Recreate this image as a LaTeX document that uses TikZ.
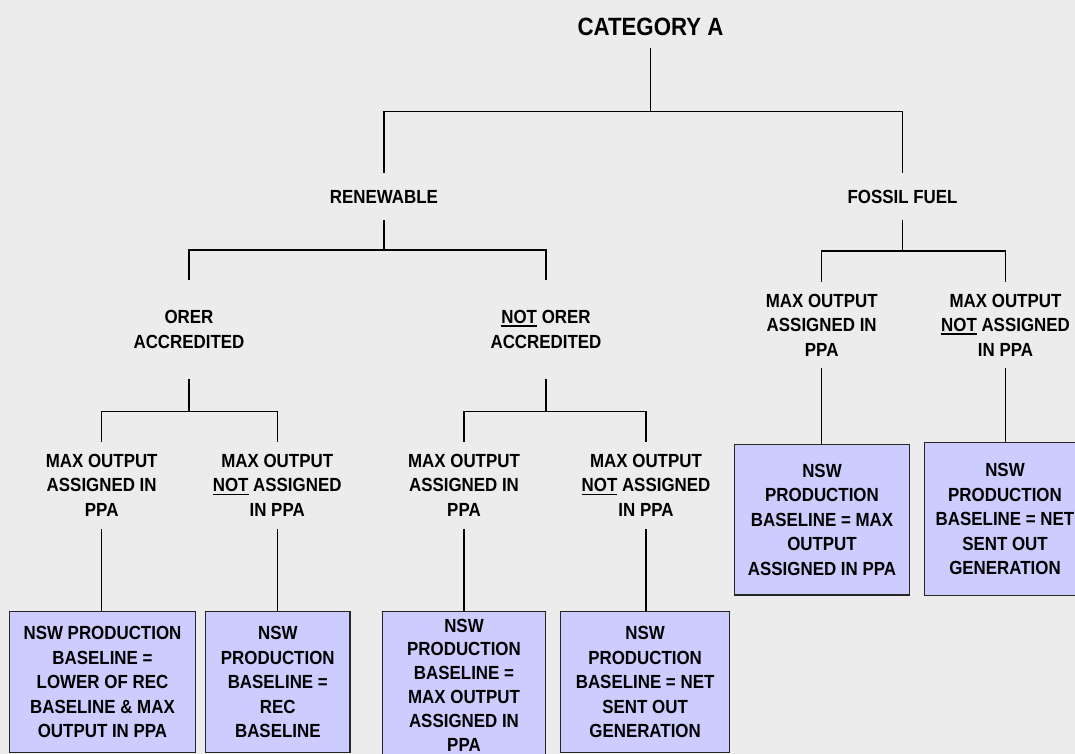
\documentclass[tikz,border=0pt]{standalone}
\usepackage{fontspec}
\setmainfont{Liberation Sans}[FakeStretch=0.89]
\usepackage{xcolor}
\usetikzlibrary{positioning}
\definecolor{bgcol}{HTML}{ECECEC}
\definecolor{boxcol}{HTML}{CCCCFF}
\definecolor{boxline}{HTML}{262626}
\newcommand{\ulnot}[1]{\setbox0\hbox{#1}\rlap{\rule[-3.5pt]{\wd0}{1.8pt}}\box0\relax}

\begin{document}
\begin{tikzpicture}[x=1pt,y=-1pt,line width=1.3pt,
	txt/.style={font=\fontsize{19}{24.5}\selectfont\bfseries, align=center, inner xsep=0pt},
	toplbl/.style={font=\fontsize{25}{30}\selectfont\bfseries, inner xsep=0pt, inner ysep=12pt},
	grplbl/.style={txt, inner ysep=16pt},
	srclbl/.style={txt, inner ysep=30pt},
	optlbl/.style={txt, inner ysep=11.5pt},
	resbox/.style={txt, draw=boxline, fill=boxcol, line width=1.4pt, inner sep=0pt}]
	\useasboundingbox (0,0) rectangle (1075,754);
	\clip (0,0) rectangle (1075,754);
	\fill[bgcol] (0,0) rectangle (1075,754);

	\node[toplbl] (cat) at (650.5,27) {CATEGORY A};
	\node[grplbl] (ren) at (384,196.5) {RENEWABLE};
	\node[grplbl] (fos) at (902.5,196.5) {FOSSIL FUEL};
	\node[srclbl] (orer) at (189,329.3) {ORER\\ACCREDITED};
	\node[srclbl] (nor) at (546,329.3) {\ulnot{NOT} ORER\\ACCREDITED};

	\node[optlbl] (m1) at (101.7,485.3) {MAX OUTPUT\\ASSIGNED IN\\PPA};
	\node[optlbl] (m2) at (277.2,485.3) {MAX OUTPUT\\\ulnot{NOT} ASSIGNED\\IN PPA};
	\node[optlbl] (m3) at (464,485.3) {MAX OUTPUT\\ASSIGNED IN\\PPA};
	\node[optlbl] (m4) at (646,485.3) {MAX OUTPUT\\\ulnot{NOT} ASSIGNED\\IN PPA};
	\node[optlbl] (m5) at (821.7,325) {MAX OUTPUT\\ASSIGNED IN\\PPA};
	\node[optlbl] (m6) at (1005.5,325) {MAX OUTPUT\\\ulnot{NOT} ASSIGNED\\IN PPA};

	\node[resbox, minimum width=186.4pt, minimum height=140.6pt] (b1) at (102.5,682)
		{NSW PRODUCTION\\BASELINE =\\LOWER OF REC\\BASELINE \& MAX\\OUTPUT IN PPA};
	\node[resbox, minimum width=144.3pt, minimum height=140.6pt] (b2) at (277.8,682)
		{NSW\\PRODUCTION\\BASELINE =\\REC\\BASELINE};
	\node[resbox, font=\fontsize{19}{23.8}\selectfont\bfseries, minimum width=162.6pt, minimum height=146.6pt] (b3) at (464,685)
		{NSW\\PRODUCTION\\BASELINE =\\MAX OUTPUT\\ASSIGNED IN\\PPA};
	\node[resbox, minimum width=168.8pt, minimum height=140.6pt] (b4) at (645.1,682)
		{NSW\\PRODUCTION\\BASELINE = NET\\SENT OUT\\GENERATION};
	\node[resbox, minimum width=174.6pt, minimum height=150.7pt] (b5) at (822,519.7)
		{NSW\\PRODUCTION\\BASELINE = MAX\\OUTPUT\\ASSIGNED IN PPA};
	\node[resbox, minimum width=161.4pt, minimum height=153.4pt] (b6) at (1005,519)
		{NSW\\PRODUCTION\\BASELINE = NET\\SENT OUT\\GENERATION};

	\coordinate (jA) at (650.5,111.7);
	\coordinate (jR) at (384,250);
	\coordinate (jF) at (902.5,251);
	\coordinate (jO) at (189,411.5);
	\coordinate (jN) at (546,411.5);

	\draw (cat) -- (jA);
	\draw (ren) |- (jA) -| (fos);
	\draw (ren) -- (jR);
	\draw (orer) |- (jR) -| (nor);
	\draw (fos) -- (jF);
	\draw (m5) |- (jF) -| (m6);
	\draw (orer) -- (jO);
	\draw (m1) |- (jO) -| (m2);
	\draw (nor) -- (jN);
	\draw (m3) |- (jN) -| (m4);
	\foreach \i in {1,...,6}
		\draw (m\i) -- (m\i |- b\i.north);
\end{tikzpicture}
\end{document}
